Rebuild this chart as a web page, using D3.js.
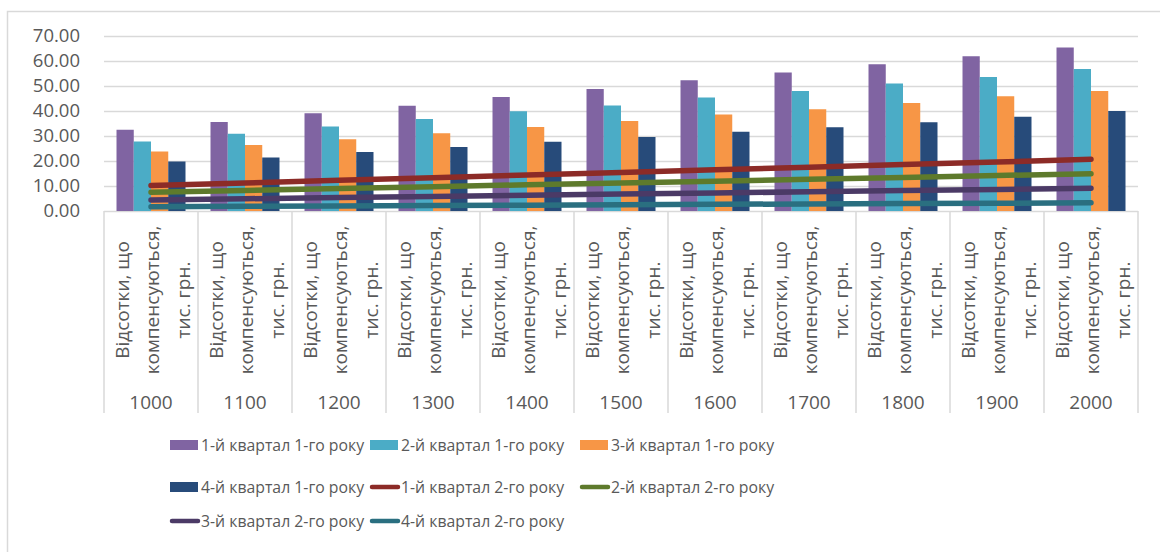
<!DOCTYPE html>
<html>
<head>
  <meta charset="utf-8">
  <title>Відсотки, що компенсуються</title>
  <script src="https://d3js.org/d3.v7.min.js"></script>
  <style>
    body { margin: 0; background: #fff; }
    text { font-family: "Open Sans", sans-serif; fill: #595959; }
  </style>
</head>
<body>
<script>
  var w = 1160, h = 552;

  var categories = ["1000", "1100", "1200", "1300", "1400", "1500", "1600", "1700", "1800", "1900", "2000"];
  var subLabel = ["Відсотки, що", "компенсуються,", "тис. грн."];
  var yTicks = [0, 10, 20, 30, 40, 50, 60, 70];

  // bars: квартали 1-го року
  var q1y1 = [32.5, 35.6, 39.1, 42.1, 45.6, 48.8, 52.3, 55.4, 58.7, 61.9, 65.4];
  var q2y1 = [27.8, 30.9, 33.8, 36.8, 39.9, 42.2, 45.4, 48.0, 51.0, 53.6, 56.8];
  var q3y1 = [23.8, 26.4, 28.7, 31.1, 33.6, 36.0, 38.6, 40.7, 43.2, 45.9, 48.0];
  var q4y1 = [19.8, 21.4, 23.6, 25.6, 27.7, 29.6, 31.7, 33.5, 35.5, 37.7, 40.0];

  // lines: квартали 2-го року
  var q1y2 = [10.2, 11.2, 12.3, 13.3, 14.4, 15.4, 16.5, 17.5, 18.6, 19.6, 20.7];
  var q2y2 = [7.5, 8.2, 9.0, 9.7, 10.5, 11.2, 11.9, 12.7, 13.4, 14.2, 14.9];
  var q3y2 = [4.4, 4.9, 5.4, 5.8, 6.3, 6.8, 7.2, 7.7, 8.2, 8.6, 9.1];
  var q4y2 = [1.7, 1.9, 2.0, 2.2, 2.3, 2.5, 2.7, 2.8, 3.0, 3.1, 3.3];

  var barSeries = [
    {name: "1-й квартал 1-го року", values: q1y1, color: "#8064A2"},
    {name: "2-й квартал 1-го року", values: q2y1, color: "#4BACC6"},
    {name: "3-й квартал 1-го року", values: q3y1, color: "#F79646"},
    {name: "4-й квартал 1-го року", values: q4y1, color: "#274B7A"}
  ];
  var lineSeries = [
    {name: "1-й квартал 2-го року", values: q1y2, color: "#8C2B27"},
    {name: "2-й квартал 2-го року", values: q2y2, color: "#5E7A2C"},
    {name: "3-й квартал 2-го року", values: q3y2, color: "#4B3A66"},
    {name: "4-й квартал 2-го року", values: q4y2, color: "#2A6F80"}
  ];

  var svg = d3.select("body").append("svg").attr("width", w).attr("height", h);

  // chart frame
  svg.append("path")
    .attr("d", "M7.5," + h + "V11.5H" + w)
    .attr("fill", "none").attr("stroke", "#d9d9d9").attr("stroke-width", 1.5);

  var x0 = d3.scaleBand().domain(categories).range([104, 1138]).padding(0);
  var x1 = d3.scaleBand().domain(d3.range(barSeries.length))
    .range([0, x0.bandwidth()]).paddingInner(0).paddingOuter(0.725);
  var y = d3.scaleLinear().domain([0, 70]).range([211, 36]);

  // gridlines + y labels
  var yAxis = svg.append("g").attr("transform", "translate(104,0)")
    .call(d3.axisLeft(y).tickValues(yTicks).tickFormat(d3.format(".2f"))
      .tickSize(-(1138 - 104)).tickPadding(24));
  yAxis.select(".domain").remove();
  yAxis.selectAll("line").attr("stroke", "#d9d9d9").attr("stroke-width", 1.5);
  yAxis.selectAll("text").attr("font-size", "18.5px").attr("fill", "#595959")
    .style("font-family", "'Open Sans', sans-serif");

  // category separators (both levels)
  svg.append("g").selectAll("line")
    .data(categories.concat(["end"]))
    .join("line")
    .attr("x1", function(d, i){ return i < categories.length ? x0(d) : x0.range()[1]; })
    .attr("x2", function(d, i){ return i < categories.length ? x0(d) : x0.range()[1]; })
    .attr("y1", y(0)).attr("y2", 413)
    .attr("stroke", "#d9d9d9").attr("stroke-width", 1.5);

  // bars
  svg.append("g").selectAll("g")
    .data(barSeries)
    .join("g")
    .attr("fill", function(d){ return d.color; })
    .selectAll("rect")
    .data(function(s, si){ return s.values.map(function(v, ci){ return {cat: categories[ci], v: v, si: si}; }); })
    .join("rect")
    .attr("x", function(d){ return x0(d.cat) + x1(d.si); })
    .attr("y", function(d){ return y(d.v); })
    .attr("width", x1.bandwidth())
    .attr("height", function(d){ return y(0) - y(d.v); });

  // lines
  var line = d3.line()
    .x(function(d, i){ return x0(categories[i]) + x0.bandwidth() / 2; })
    .y(function(d){ return y(d); });

  svg.append("g").selectAll("path")
    .data(lineSeries)
    .join("path")
    .attr("d", function(d){ return line(d.values); })
    .attr("fill", "none")
    .attr("stroke", function(d){ return d.color; })
    .attr("stroke-width", 5.5)
    .attr("stroke-linecap", "round");

  // rotated sub labels + category numbers
  var catG = svg.append("g").selectAll("g")
    .data(categories)
    .join("g")
    .attr("transform", function(d){ return "translate(" + (x0(d) + x0.bandwidth() / 2) + ",0)"; });

  catG.selectAll("text.sub")
    .data(subLabel)
    .join("text")
    .attr("class", "sub")
    .attr("transform", function(d, i){ return "translate(" + (-29 + i * 30.5) + ",300) rotate(-90)"; })
    .attr("text-anchor", "middle")
    .attr("dy", "0.36em")
    .attr("font-size", "19px")
    .text(function(d){ return d; });

  catG.append("text")
    .attr("y", 402)
    .attr("dy", "0.36em")
    .attr("text-anchor", "middle")
    .attr("font-size", "19px")
    .text(function(d){ return d; });

  // legend
  var legendItems = barSeries.map(function(s){ return {name: s.name, color: s.color, type: "bar"}; })
    .concat(lineSeries.map(function(s){ return {name: s.name, color: s.color, type: "line"}; }));
  var colX = [170, 370, 580];
  var rowY = [445, 487, 521];

  var leg = svg.append("g").selectAll("g")
    .data(legendItems)
    .join("g")
    .attr("transform", function(d, i){ return "translate(" + colX[i % 3] + "," + rowY[Math.floor(i / 3)] + ")"; });

  leg.filter(function(d){ return d.type == "bar"; })
    .append("rect")
    .attr("x", 0).attr("y", -5).attr("width", 28).attr("height", 10)
    .attr("fill", function(d){ return d.color; });

  leg.filter(function(d){ return d.type == "line"; })
    .append("line")
    .attr("x1", 2).attr("x2", 28).attr("y1", 0).attr("y2", 0)
    .attr("stroke", function(d){ return d.color; })
    .attr("stroke-width", 4.5)
    .attr("stroke-linecap", "round");

  leg.append("text")
    .attr("x", 31)
    .attr("dy", "0.36em")
    .attr("font-size", "15.8px")
    .text(function(d){ return d.name; });
</script>
</body>
</html>
